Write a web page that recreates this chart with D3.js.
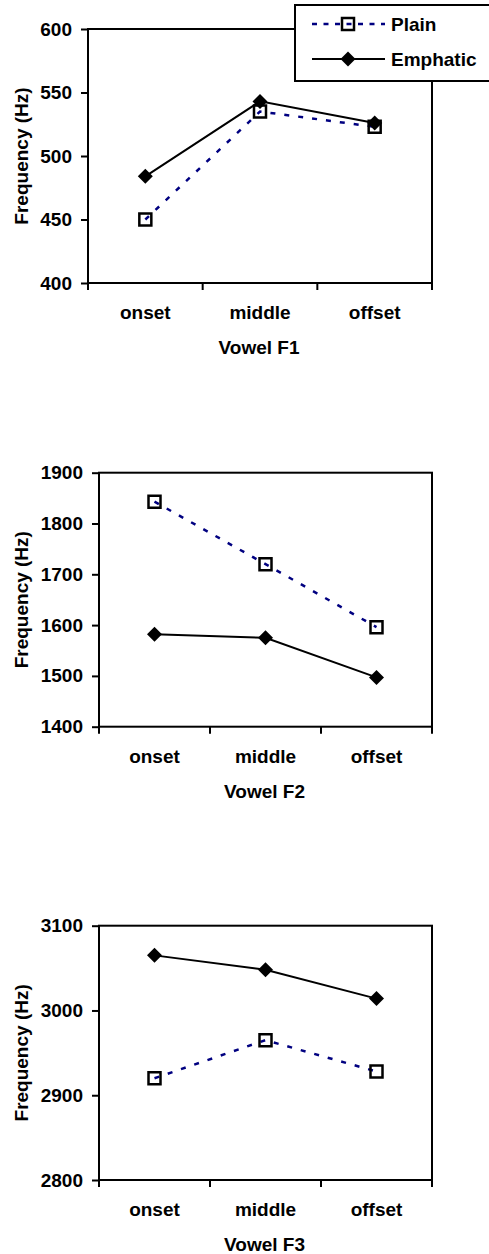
<!DOCTYPE html>
<html>
<head>
<meta charset="utf-8">
<script src="https://cdn.jsdelivr.net/npm/d3@7"></script>
<style>
  html, body { margin: 0; padding: 0; background: #fff; }
  svg { display: block; }
  text { font-family: "Liberation Sans", Arial, sans-serif; font-weight: bold; fill: #000; }
</style>
</head>
<body>
<svg id="chart" width="489" height="1254"></svg>
<script>
// ---- data ----
const categories = ["onset", "middle", "offset"];
const seriesNames = ["Plain", "Emphatic"];
const yAxisTitle = "Frequency (Hz)";
const panelTitles = ["Vowel F1", "Vowel F2", "Vowel F3"];

const f1Plain = [450, 535, 523];
const f1Emphatic = [484, 543, 526];
const f2Plain = [1843, 1720, 1596];
const f2Emphatic = [1582, 1575, 1497];
const f3Plain = [2920, 2965, 2928];
const f3Emphatic = [3065, 3048, 3014];

const f1Ticks = [400, 450, 500, 550, 600];
const f2Ticks = [1400, 1500, 1600, 1700, 1800, 1900];
const f3Ticks = [2800, 2900, 3000, 3100];

// ---- layout (styles / positions) ----
const panels = [
  { title: panelTitles[0], plain: f1Plain, emph: f1Emphatic, ticks: f1Ticks, left: 88, right: 432, top: 29, bottom: 283 },
  { title: panelTitles[1], plain: f2Plain, emph: f2Emphatic, ticks: f2Ticks, left: 99, right: 432, top: 472.7, bottom: 726.7 },
  { title: panelTitles[2], plain: f3Plain, emph: f3Emphatic, ticks: f3Ticks, left: 99, right: 432, top: 925.7, bottom: 1180 }
];

const FONT = 19;
const PLAIN_COLOR = "#000080";
const svg = d3.select("#chart");

function squarePath(cx, cy, s) {
  return `M${cx - s},${cy - s}H${cx + s}V${cy + s}H${cx - s}Z`;
}
function diamondPath(cx, cy, s) {
  return `M${cx},${cy - s}L${cx + s},${cy}L${cx},${cy + s}L${cx - s},${cy}Z`;
}

panels.forEach(p => {
  const g = svg.append("g");
  const x = d3.scaleBand().domain(categories).range([p.left, p.right]).padding(0);
  const y = d3.scaleLinear().domain([p.ticks[0], p.ticks[p.ticks.length - 1]]).range([p.bottom, p.top]);
  const cx = c => x(c) + x.bandwidth() / 2;

  // plot frame
  g.append("rect")
    .attr("x", p.left).attr("y", p.top)
    .attr("width", p.right - p.left).attr("height", p.bottom - p.top)
    .attr("fill", "none").attr("stroke", "#000").attr("stroke-width", 2);

  // y axis
  const ya = g.append("g").attr("transform", `translate(${p.left},0)`)
    .call(d3.axisLeft(y).tickValues(p.ticks).tickSize(7).tickPadding(9).tickFormat(d3.format("d")));
  ya.select(".domain").remove();
  ya.selectAll(".tick line").attr("stroke", "#000").attr("stroke-width", 2);
  ya.selectAll(".tick text").style("font-size", FONT + "px").style("font-family", "'Liberation Sans', Arial, sans-serif").style("font-weight", "bold");

  // x axis labels
  const xa = g.append("g").attr("transform", `translate(0,${p.bottom})`)
    .call(d3.axisBottom(x).tickSize(0).tickPadding(23));
  xa.select(".domain").remove();
  xa.selectAll(".tick text").style("font-size", FONT + "px").style("font-family", "'Liberation Sans', Arial, sans-serif").style("font-weight", "bold");

  // x boundary ticks
  const edges = categories.map(c => x(c)).concat([p.right]);
  g.selectAll(".xtick").data(edges).enter().append("line")
    .attr("x1", d => d).attr("x2", d => d)
    .attr("y1", p.bottom).attr("y2", p.bottom + 7)
    .attr("stroke", "#000").attr("stroke-width", 2);

  // axis titles
  g.append("text")
    .attr("x", (p.left + p.right) / 2 - 1).attr("y", p.bottom + 71)
    .attr("text-anchor", "middle").style("font-size", FONT + "px")
    .text(p.title);
  g.append("text")
    .attr("transform", `translate(28,${(p.top + p.bottom) / 2}) rotate(-90)`)
    .attr("text-anchor", "middle").style("font-size", FONT + "px")
    .text(yAxisTitle);

  const line = d3.line().x((d, i) => cx(categories[i])).y(d => y(d));

  // plain (dotted navy)
  g.append("path").datum(p.plain).attr("d", line)
    .attr("fill", "none").attr("stroke", PLAIN_COLOR).attr("stroke-width", 2.5)
    .attr("stroke-dasharray", "5,9");
  // emphatic (solid black)
  g.append("path").datum(p.emph).attr("d", line)
    .attr("fill", "none").attr("stroke", "#000").attr("stroke-width", 2);

  g.selectAll(".sq").data(p.plain).enter().append("path")
    .attr("d", (d, i) => squarePath(cx(categories[i]), y(d), 6))
    .attr("fill", "none").attr("stroke", "#000").attr("stroke-width", 2.5);
  g.selectAll(".dm").data(p.emph).enter().append("path")
    .attr("d", (d, i) => diamondPath(cx(categories[i]), y(d), 7.5))
    .attr("fill", "#000");
});

// legend
const lg = svg.append("g");
lg.append("rect").attr("x", 295).attr("y", 5).attr("width", 210).attr("height", 76)
  .attr("fill", "#fff").attr("stroke", "#000").attr("stroke-width", 2);
const rows = [
  { name: seriesNames[0], y: 24 },
  { name: seriesNames[1], y: 59 }
];
rows.forEach((r, i) => {
  const ln = lg.append("line").attr("x1", 312).attr("x2", 385).attr("y1", r.y).attr("y2", r.y);
  if (i === 0) {
    ln.attr("stroke", PLAIN_COLOR).attr("stroke-width", 2.5).attr("stroke-dasharray", "5,6.5");
    lg.append("path").attr("d", squarePath(348, r.y, 6)).attr("fill", "none").attr("stroke", "#000").attr("stroke-width", 2.5);
  } else {
    ln.attr("stroke", "#000").attr("stroke-width", 2);
    lg.append("path").attr("d", diamondPath(348, r.y, 7.5)).attr("fill", "#000");
  }
  lg.append("text").attr("x", 391).attr("y", r.y + 7).style("font-size", FONT + "px").text(r.name);
});
</script>
</body>
</html>
